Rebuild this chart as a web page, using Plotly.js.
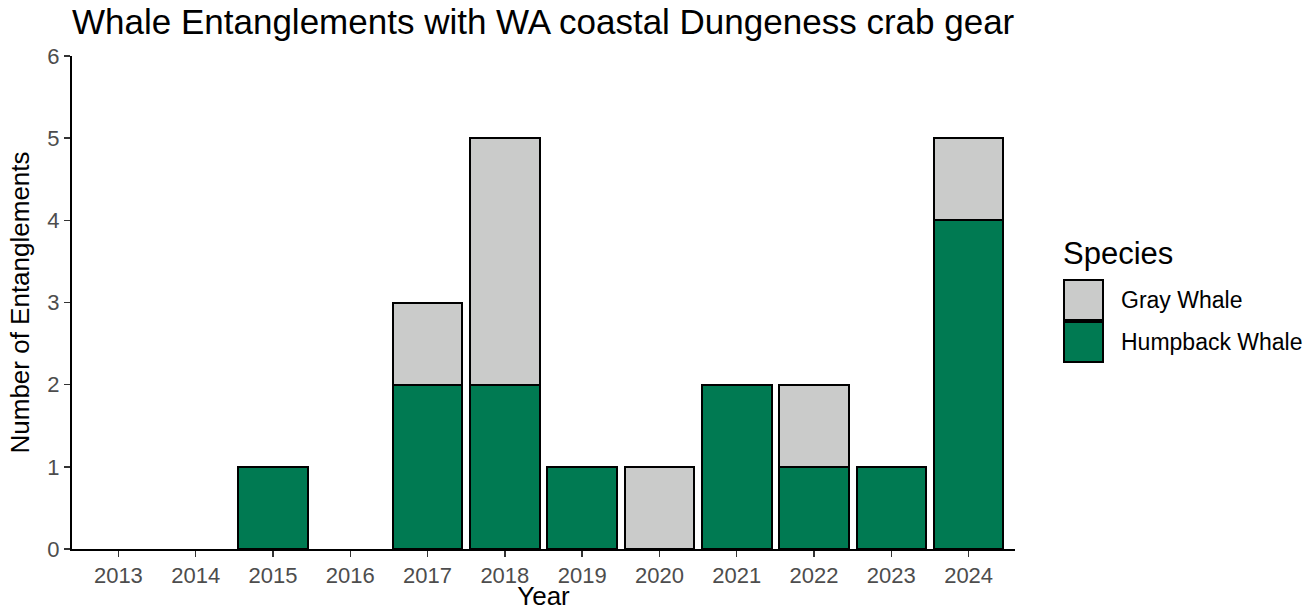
<!DOCTYPE html>
<html>
<head>
<meta charset="utf-8">
<script src="https://cdn.plot.ly/plotly-3.0.1.min.js"></script>
<style>html,body{margin:0;padding:0;background:#fff;}#chart{width:1316px;height:611px;}</style>
</head>
<body>
<div id="chart"></div>
<script>
const years = [2013, 2014, 2015, 2016, 2017, 2018, 2019, 2020, 2021, 2022, 2023, 2024];
const humpback = [0, 0, 1, 0, 2, 2, 1, 0, 2, 1, 1, 4];
const gray = [0, 0, 0, 0, 1, 3, 0, 1, 0, 1, 0, 1];
const yTicks = [0, 1, 2, 3, 4, 5, 6];
const speciesNames = ['Gray Whale', 'Humpback Whale'];

const GREEN = '#007A52';
const GRAY = '#CACBCA';
const FONT = 'Liberation Sans, Arial, sans-serif';
const nz = a => a.map(v => v === 0 ? null : v);

const traces = [
  {type: 'bar', name: 'Humpback Whale', x: years, y: nz(humpback), width: 0.9,
   marker: {color: GREEN, line: {color: '#000', width: 2}}, hoverinfo: 'x+y+name'},
  {type: 'bar', name: 'Gray Whale', x: years, y: nz(gray), width: 0.9,
   marker: {color: GRAY, line: {color: '#000', width: 2}}, hoverinfo: 'x+y+name'}
];

// plot area in pixels
const L = 72, R = 1015, T = 56, B = 549;
const px = x => (x - L) / (R - L);
const py = y => (B - y) / (B - T);

const legendBoxes = [
  {name: speciesNames[0], color: GRAY, y0: 280, y1: 320},
  {name: speciesNames[1], color: GREEN, y0: 322, y1: 362}
];
const shapes = legendBoxes.map(b => ({
  type: 'rect', xref: 'paper', yref: 'paper',
  x0: px(1064), x1: px(1103), y0: py(b.y1), y1: py(b.y0),
  fillcolor: b.color, line: {color: '#000', width: 2}
}));
const annotations = legendBoxes.map(b => ({
  xref: 'paper', yref: 'paper', x: px(1119), y: py((b.y0 + b.y1) / 2),
  xanchor: 'left', yanchor: 'middle', showarrow: false, text: b.name,
  font: {family: FONT, size: 23, color: '#000'}
}));
annotations.push({
  xref: 'paper', yref: 'paper', x: px(1061), y: py(253),
  xanchor: 'left', yanchor: 'middle', showarrow: false, text: 'Species',
  font: {family: FONT, size: 31, color: '#000'}
});

const layout = {
  width: 1316, height: 611,
  margin: {l: L, r: 1316 - R, t: T, b: 611 - B, pad: 0},
  paper_bgcolor: '#fff', plot_bgcolor: '#fff',
  barmode: 'stack',
  showlegend: false,
  font: {family: FONT},
  title: {
    text: 'Whale Entanglements with WA coastal Dungeness crab gear',
    font: {family: FONT, size: 35, color: '#000'},
    x: 72 / 1316, xanchor: 'left', xref: 'container',
    y: 1 - 34 / 611, yanchor: 'bottom', yref: 'container', pad: {t: 0, b: 0, l: 0, r: 0}
  },
  xaxis: {
    range: [2012.4, 2024.6],
    tickvals: years, ticktext: years.map(String),
    ticks: 'outside', ticklen: 6, tickwidth: 1.5, tickcolor: '#333',
    showline: true, linecolor: '#000', linewidth: 2,
    showgrid: false, zeroline: false,
    tickfont: {size: 22, color: '#4D4D4D'},
    title: {text: 'Year', font: {size: 26, color: '#000'}, standoff: 2}
  },
  yaxis: {
    range: [0, 6],
    tickvals: yTicks, ticktext: yTicks.map(String),
    ticks: 'outside', ticklen: 6, tickwidth: 1.5, tickcolor: '#333',
    showline: true, linecolor: '#000', linewidth: 2,
    showgrid: false, zeroline: false,
    tickfont: {size: 22, color: '#4D4D4D'},
    title: {text: 'Number of Entanglements', font: {size: 26, color: '#000'}, standoff: 10}
  },
  shapes: shapes,
  annotations: annotations
};

Plotly.newPlot('chart', traces, layout, {displayModeBar: false, staticPlot: true});
</script>
</body>
</html>
